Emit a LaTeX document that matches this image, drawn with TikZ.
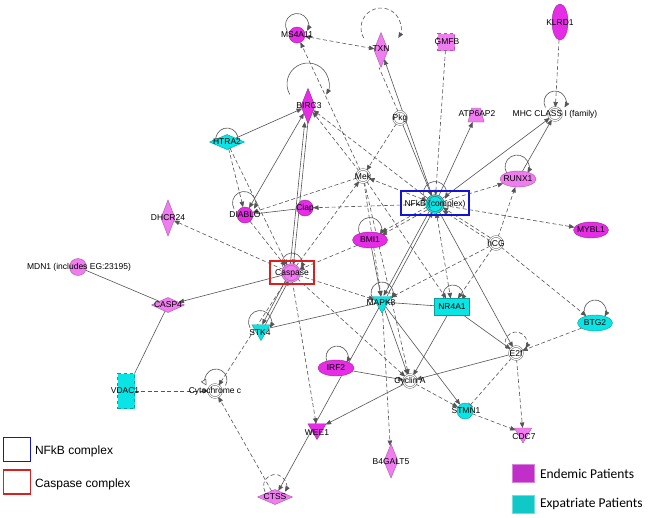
\documentclass[tikz,border=0pt]{standalone}
\usepackage{fontspec}
\setmainfont{Liberation Sans}
\newfontfamily\carl{Carlito}
\usetikzlibrary{shapes.geometric,arrows.meta,backgrounds}
\definecolor{magS}{RGB}{230,45,230}
\definecolor{magL}{RGB}{240,125,240}
\definecolor{cyn}{RGB}{10,228,228}
\definecolor{edgeC}{RGB}{85,85,85}
\definecolor{nfkbBlue}{RGB}{20,20,215}
\definecolor{caspRed}{RGB}{220,30,30}
\definecolor{endem}{RGB}{192,48,200}
\definecolor{expat}{RGB}{16,200,200}
\newcommand\myloop[4][]{\draw[edge,->,#1] (#2,#3) ++(150:#4) arc[start angle=150,end angle=390,radius=#4];}
\newcommand\myoloop[3]{\draw[edge,-{Triangle[open,fill=white,length=6pt,width=6pt]}] (#1,#2) ++(30:#3) arc[start angle=30,end angle=-210,radius=#3];}
\begin{document}
\begin{tikzpicture}[x=1pt,y=-1pt,
  >={Triangle[length=5.5pt,width=4.5pt]},
  every node/.style={inner sep=0pt, outer sep=0pt},
  lbl/.style={font=\fontsize{8.5}{9}\selectfont, text=black},
  base/.style={draw=#1!70!black, fill=#1, line width=0.4pt},
  circ/.style={base=#1, circle, minimum size=16pt},
  dcirc/.style={circle, draw=edgeC!90, double=white, double distance=1.2pt, fill=white, minimum size=13pt, line width=0.5pt},
  vdiam/.style={base=#1, diamond, minimum width=14pt, minimum height=35pt},
  hdiam/.style={base=#1, diamond, minimum width=35pt, minimum height=15pt},
  tri/.style={base=#1, regular polygon, regular polygon sides=3, shape border rotate=180, minimum size=22pt},
  ell/.style={base=#1, ellipse, minimum width=36pt, minimum height=16pt},
  edge/.style={draw=edgeC, line width=0.6pt},
  dsh/.style={edge, dash pattern=on 4pt off 2.5pt},
  cbox/.style={draw=#1, line width=1.5pt, fill=none}
]
\useasboundingbox (0,0) rectangle (652,517);

% ---------- nodes ----------
\node[circ=magS] (ms4a) at (297,35) {};
\node[vdiam=magL] (txn) at (381,50) {};
\node[base=magL, rectangle, dashed, minimum size=17pt] (gmfb) at (446,42) {};
\node[base=magS, ellipse, minimum width=16pt, minimum height=36pt] (klrd) at (560,22) {};
\node[vdiam=magS] (birc) at (308,106) {};
\node[dcirc] (pkg) at (400,118) {};
\node[base=magL, trapezium, inner sep=1pt, trapezium left angle=68, trapezium right angle=68, trapezium stretches=true, minimum width=16pt, minimum height=14pt] (atp) at (476,115) {};
\node[dcirc] (mhc) at (555,114) {};
\node[hdiam=cyn] (htra) at (227,142) {};
\node[dcirc] (mek) at (363,176) {};
\node[circ=cyn, draw=edgeC, double=cyn, double distance=1.2pt, line width=0.5pt, minimum size=17pt] (nfkb) at (435,204) {};
\node[ell=magL] (runx) at (518,179) {};
\node[vdiam=magL, minimum height=36pt] (dhcr) at (168,218) {};
\node[circ=magS] (diablo) at (245,215) {};
\node[circ=magS] (ciap) at (305,208) {};
\node[ell=magS, minimum width=35pt] (bmi) at (370,240) {};
\node[dcirc] (hcg) at (496,243) {};
\node[ell=magS, minimum width=35pt] (mybl) at (591,230) {};
\node[circ=magL, minimum size=17pt] (mdn) at (78,267) {};
\node[circ=magL, double=magL, double distance=1.2pt, line width=0.5pt, minimum size=17pt] (casp) at (291,273) {};
\node[tri=cyn] (mapk) at (382,302) {};
\node[base=cyn, rectangle, minimum width=35pt, minimum height=17pt] (nr4a) at (452,307) {};
\node[hdiam=magL, minimum width=33pt] (casp4) at (168,305) {};
\node[tri=cyn, minimum size=21pt] (stk4) at (261,330) {};
\node[ell=cyn, minimum width=35pt] (btg2) at (595,323) {};
\node[dcirc] (e2f) at (516,353) {};
\node[base=cyn, rectangle, dashed, minimum width=17pt, minimum height=35pt] (vdac) at (126,391) {};
\node[dcirc] (cytc) at (215,391) {};
\node[ell=magS] (irf2) at (336,368) {};
\node[dcirc] (cycla) at (410,381) {};
\node[circ=cyn] (stmn) at (465,411) {};
\node[tri=magS, minimum size=21pt] (wee1) at (317,429) {};
\node[tri=magL, minimum size=20pt] (cdc7) at (523,433) {};
\node[vdiam=magL, minimum height=34pt] (b4g) at (391,461) {};
\node[hdiam=magL] (ctss) at (275,497) {};

% complex boxes
\node[cbox=nfkbBlue, minimum width=68pt, minimum height=24pt] (nfkbbox) at (435,203) {};
\node[cbox=caspRed, minimum width=44pt, minimum height=23pt] (caspbox) at (292,272.5) {};

% ---------- labels ----------
\node[lbl] (ms4a-t) at (297,35) {MS4A11};
\node[lbl] (txn-t) at (381,49) {TXN};
\node[lbl] (gmfb-t) at (447,42) {GMFB};
\node[lbl] (klrd-t) at (560,23) {KLRD1};
\node[lbl] (birc-t) at (309,106) {BIRC3};
\node[lbl] (pkg-t) at (400,118) {Pkg};
\node[lbl] (atp-t) at (477,114) {ATP6AP2};
\node[lbl] (mhc-t) at (555,114) {MHC CLASS I (family)};
\node[lbl] (htra-t) at (227,142) {HTRA2};
\node[lbl] (mek-t) at (363,176) {Mek};
\node[lbl] (nfkb-t) at (435,204) {NFkB (complex)};
\node[lbl] (runx-t) at (518,179) {RUNX1};
\node[lbl] (dhcr-t) at (168,218) {DHCR24};
\node[lbl] (diablo-t) at (245,215) {DIABLO};
\node[lbl] (ciap-t) at (305,208) {Ciap};
\node[lbl] (bmi-t) at (370,240) {BMI1};
\node[lbl] (hcg-t) at (496,243) {hCG};
\node[lbl] (mybl-t) at (591,230) {MYBL1};
\node[lbl] (mdn-t) at (79,267) {MDN1 (includes EG:23195)};
\node[lbl] (casp-t) at (292,273) {Caspase};
\node[lbl] (mapk-t) at (381,303) {MAPK8};
\node[lbl] (nr4a-t) at (452,307) {NR4A1};
\node[lbl] (casp4-t) at (168,305) {CASP4};
\node[lbl] (stk4-t) at (260,333) {STK4};
\node[lbl] (btg2-t) at (595,323) {BTG2};
\node[lbl] (e2f-t) at (516,353) {E2f};
\node[lbl] (vdac-t) at (125,391) {VDAC1};
\node[lbl] (cytc-t) at (215,391) {Cytochrome c};
\node[lbl] (irf2-t) at (336,368) {IRF2};
\node[lbl] (cycla-t) at (410,381) {Cyclin A};
\node[lbl] (stmn-t) at (466,411) {STMN1};
\node[lbl] (wee1-t) at (317,433) {WEE1};
\node[lbl] (cdc7-t) at (524,437) {CDC7};
\node[lbl] (b4g-t) at (391,462) {B4GALT5};
\node[lbl] (ctss-t) at (275,497) {CTSS};

% ---------- legend ----------
\node[cbox=nfkbBlue, minimum width=27pt, minimum height=24pt] (lgb) at (17,449.5) {};
\node[anchor=west, font=\fontsize{12}{14}\selectfont] (lgbt) at (35,451) {NFkB complex};
\node[cbox=caspRed, minimum width=27pt, minimum height=24pt] (lgr) at (17,482) {};
\node[anchor=west, font=\fontsize{12}{14}\selectfont] (lgrt) at (35,484) {Caspase complex};
\node[fill=endem, draw=endem!60!white, minimum width=22pt, minimum height=18pt] (lge) at (523,473) {};
\node[anchor=west, font=\carl\fontsize{13.5}{15}\selectfont] (lget) at (540,474) {Endemic Patients};
\node[fill=expat, draw=expat!60!white, minimum width=22pt, minimum height=18pt] (lgx) at (523,504) {};
\node[anchor=west, font=\carl\fontsize{13.5}{15}\selectfont] (lgxt) at (540,504) {Expatriate Patients};

% ---------- connectors ----------
\begin{scope}[on background layer]
\fill[white] (0,0) rectangle (652,517);
\myloop{297}{25}{11.5}
\myloop[dsh]{381}{28}{20}
\myloop{308}{84}{21}
\myoloop{227}{139}{11}
\myloop{555}{102}{11}
\myloop{517}{167}{12}
\myloop{435}{193}{11.5}
\myloop{244}{203}{11.5}
\myloop{370}{229}{11.5}
\myloop{292}{263}{10}
\myloop{382}{293}{11}
\myloop{453}{295}{10}
\myloop{260}{322}{11.5}
\myloop{595}{311}{11}
\myloop[dsh]{516}{343}{11}
\myoloop{216}{380}{11}
\myloop{337}{357}{11}
\myloop[dsh]{275}{486}{11.5}

\draw[dsh,<->] (ms4a) -- (txn);
\draw[dsh,->] (mek) -- (ms4a);
\draw[edge,->] (nfkb) -- (txn);
\draw[dsh] ([xshift=-2pt]pkg.north) -- ([xshift=-2pt]txn.south);
\draw[dsh,->] (gmfb) -- (nfkb);
\draw[edge,->] (nfkb) -- (atp);
\draw[edge,->] (nfkb) -- (mhc);
\draw[edge,->] (runx) -- (mhc);
\draw[dsh,->] (klrd) -- (mhc);
\draw[dsh,->] (nfkb) -- (runx);
\draw[dsh,->] (nfkb) -- (mybl);
\draw[dsh,->] (hcg) -- (runx);
\draw[dsh,->,shorten <=7pt,shorten >=9pt] ([yshift=1.6pt]hcg.center) -- ([yshift=1.6pt]nfkb.center);
\draw[dsh,->,shorten <=7pt,shorten >=9pt] ([yshift=-1.6pt]hcg.center) -- ([yshift=-1.6pt]nfkb.center);
\draw[dsh,->] (hcg) -- (btg2);
\draw[dsh,->] (hcg) -- (mapk);
\draw[dsh,->] (hcg) -- (nr4a);
\draw[dsh,->] (pkg) -- (mek);
\draw[edge,->] (pkg) -- (nfkb);
\draw[dsh,->] (nfkb) -- (ciap);
\draw[edge,-{Bar[width=6pt]}] (diablo) -- (ciap);
\draw[dsh,->] (mek) -- (diablo);
\draw[dsh,->] (htra) -- (diablo);
\draw[dsh,->] (htra) -- (casp);
\draw[edge,->] (htra) -- (birc);
\draw[edge,<->] (diablo) -- (birc);
\draw[edge,->,shorten <=8pt,shorten >=16pt] ([xshift=-1.6pt]casp.center) -- ([xshift=-1.6pt]birc.center);
\draw[edge,->,shorten <=16pt,shorten >=8pt] ([xshift=1.6pt]birc.center) -- ([xshift=1.6pt]casp.center);
\draw[dsh,->] (diablo) -- (casp);
\draw[dsh,->] (casp) -- (dhcr);
\draw[edge,->] (casp) -- (casp4);
\draw[edge] (mdn) -- (casp4);
\draw[edge] (casp4) -- (vdac);
\draw[dsh,->] (vdac) -- (cytc);
\draw[dsh,->] (casp) -- (cytc);
\draw[dsh,->] (ctss) -- (cytc);
\draw[edge,->,shorten <=8pt,shorten >=6pt] ([xshift=-1.6pt]casp.center) -- ([xshift=-1.6pt]stk4.center);
\draw[edge,->,shorten <=6pt,shorten >=8pt] ([xshift=1.6pt]stk4.center) -- ([xshift=1.6pt]casp.center);
\draw[edge] (stk4) -- (mapk);
\draw[dsh,->] (casp) -- (cycla);
\draw[dsh,->] (casp) -- (wee1);
\draw[dsh,->] (casp) -- (mapk);
\draw[dsh,->] (casp) -- (mek);
\draw[dsh,->] (bmi) -- (casp);
\draw[dsh,->] (mek) -- (birc);
\draw[dsh,->] (nfkb) -- (birc);
\draw[dsh,<->] (nfkb) -- (mek);
\draw[edge,->] (bmi) -- (mapk);
\draw[dsh,->,shorten <=9pt,shorten >=13pt] ([yshift=-1.5pt]nfkb.center) -- ([yshift=-1.5pt]bmi.center);
\draw[dsh,->,shorten <=9pt,shorten >=13pt] ([yshift=1.5pt]nfkb.center) -- ([yshift=1.5pt]bmi.center);
\draw[edge,->,shorten <=9pt,shorten >=7pt] ([xshift=-1.8pt]nfkb.center) -- ([xshift=-1.8pt]mapk.center);
\draw[edge,->,shorten <=7pt,shorten >=9pt] ([xshift=1.8pt]mapk.center) -- ([xshift=1.8pt]nfkb.center);
\draw[dsh,<->] (nfkb) -- (nr4a);
\draw[edge,->] (nfkb) -- (e2f);
\draw[edge,->] (nr4a) -- (e2f);
\draw[edge] (mapk) -- (nr4a);
\draw[edge,->] (mapk) -- (ctss);
\draw[edge,->] (cycla) -- (wee1);
\draw[edge,->] (irf2) -- (cycla);
\draw[edge,->] (mapk) -- (cycla);
\draw[dsh,->] (mapk) -- (b4g);
\draw[edge,->] (mapk) -- (stmn);
\draw[dsh,->] (cycla) -- (stmn);
\draw[edge,->] (nr4a) -- (cycla);
\draw[edge,->] (e2f) -- (cycla);
\draw[dsh,->] (btg2) -- (e2f);
\draw[dsh,->] (e2f) -- (cdc7);
\draw[dsh,-{Bar[width=6pt]}] (e2f) -- (stmn);
\draw[dsh,->] (stmn) -- (cdc7);
\draw[dsh,->] (mek) -- (cycla);
\draw[dsh,->] (mek) -- (nr4a);
\draw[dsh,->] (mek) -- (mapk);
\end{scope}
\end{tikzpicture}
\end{document}
